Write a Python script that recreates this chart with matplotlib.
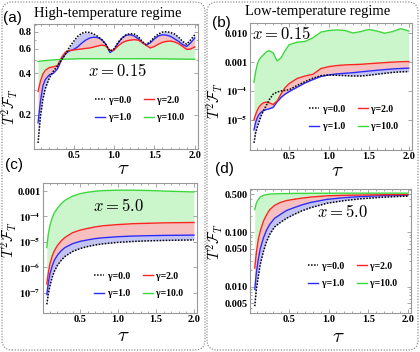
import numpy as np
import matplotlib
matplotlib.use('Agg')
import matplotlib.pyplot as plt
from matplotlib.patches import FancyBboxPatch
from matplotlib.ticker import FixedLocator, MultipleLocator, NullFormatter

# ---- data ----
gamma_labels = ["γ=0.0", "γ=1.0", "γ=2.0", "γ=10.0"]

# (a) high temperature, x = 0.15
tau_a = [0.06, 0.09, 0.12, 0.15, 0.2, 0.25, 0.3, 0.35, 0.4, 0.45, 0.5, 0.55, 0.6, 0.65,
         0.7, 0.75, 0.8, 0.85, 0.9, 0.95, 1.0, 1.05, 1.1, 1.15, 1.2, 1.25, 1.3, 1.35,
         1.4, 1.45, 1.5, 1.55, 1.6, 1.65, 1.7, 1.75, 1.8, 1.85, 1.9, 1.95, 2.0]
a_g0 = [0.125, 0.195, 0.26, 0.31, 0.37, 0.415, 0.45, 0.50, 0.55, 0.62, 0.68, 0.74, 0.78, 0.795,
        0.79, 0.77, 0.74, 0.70, 0.645, 0.58, 0.60, 0.67, 0.72, 0.76, 0.775, 0.77, 0.74, 0.68,
        0.645, 0.68, 0.73, 0.77, 0.795, 0.80, 0.79, 0.77, 0.73, 0.68, 0.65, 0.70, 0.76]
a_g1 = [0.175, 0.25, 0.325, 0.36, 0.39, 0.40, 0.43, 0.50, 0.555, 0.58, 0.595, 0.62, 0.66, 0.695,
        0.72, 0.73, 0.725, 0.70, 0.65, 0.565, 0.59, 0.66, 0.72, 0.755, 0.76, 0.745, 0.71, 0.665,
        0.64, 0.665, 0.71, 0.745, 0.76, 0.755, 0.74, 0.71, 0.68, 0.645, 0.625, 0.665, 0.72]
a_g2 = [0.295, 0.35, 0.395, 0.42, 0.44, 0.445, 0.455, 0.52, 0.57, 0.585, 0.59, 0.595, 0.60, 0.605,
        0.61, 0.62, 0.63, 0.64, 0.63, 0.585, 0.59, 0.63, 0.665, 0.685, 0.695, 0.70, 0.695, 0.67,
        0.635, 0.61, 0.625, 0.65, 0.67, 0.68, 0.685, 0.675, 0.655, 0.625, 0.595, 0.60, 0.62]
a_g10 = [0.487, 0.49, 0.492, 0.494, 0.497, 0.50, 0.502, 0.504, 0.506, 0.507, 0.508, 0.509, 0.51, 0.51,
         0.51, 0.51, 0.51, 0.51, 0.51, 0.51, 0.51, 0.51, 0.51, 0.51, 0.51, 0.51, 0.51, 0.51,
         0.51, 0.51, 0.51, 0.509, 0.509, 0.508, 0.508, 0.507, 0.507, 0.506, 0.506, 0.505, 0.505]

# (b) low temperature, x = 0.15
tau_b = [0.06, 0.08, 0.1, 0.12, 0.15, 0.18, 0.21, 0.25, 0.3, 0.35, 0.4, 0.45, 0.5, 0.6,
         0.7, 0.8, 0.9, 1.0, 1.1, 1.2, 1.3, 1.4, 1.5, 1.6, 1.7, 1.8, 1.9, 2.0]
b_g0 = [1.6e-6, 3.5e-6, 5.5e-6, 8e-6, 1.4e-5, 2.1e-5, 3.0e-5, 4.9e-5, 7.8e-5, 9.2e-5, 1.0e-4, 1.05e-4,
        1.1e-4, 1.55e-4, 2.1e-4, 2.8e-4, 3.4e-4, 3.6e-4, 3.5e-4, 3.4e-4, 3.3e-4, 3.3e-4, 3.5e-4,
        3.8e-4, 4.1e-4, 4.4e-4, 4.6e-4, 4.7e-4]
b_g1 = [4.5e-6, 8e-6, 1.15e-5, 1.5e-5, 1.85e-5, 2.1e-5, 2.25e-5, 2.4e-5, 2.7e-5, 4.2e-5, 6e-5, 7.8e-5,
        9.5e-5, 1.35e-4, 1.9e-4, 2.5e-4, 3.2e-4, 3.6e-4, 3.9e-4, 4.1e-4, 4.3e-4, 4.6e-4, 4.9e-4,
        5.2e-4, 5.5e-4, 5.8e-4, 6.0e-4, 6.2e-4]
b_g2 = [1.0e-5, 1.5e-5, 2.1e-5, 2.7e-5, 3.4e-5, 3.9e-5, 4.1e-5, 3.9e-5, 3.4e-5, 4.5e-5, 8e-5, 1.3e-4,
        1.8e-4, 2.7e-4, 3.3e-4, 3.8e-4, 6.0e-4, 7.0e-4, 7.6e-4, 8.0e-4, 8.2e-4, 8.4e-4, 8.8e-4,
        9.2e-4, 9.6e-4, 1.0e-3, 1.03e-3, 1.05e-3]
b_g10 = [2.0e-4, 4.5e-4, 8e-4, 1.15e-3, 1.5e-3, 1.8e-3, 2.2e-3, 2.5e-3, 2.1e-3, 1.1e-3, 1.4e-3, 2.5e-3,
         4.0e-3, 4.9e-3, 5.2e-3, 7.0e-3, 1.1e-2, 1.25e-2, 1.3e-2, 1.25e-2, 1.02e-2, 1.15e-2, 1.35e-2,
         1.2e-2, 1.0e-2, 1.15e-2, 1.45e-2, 1.2e-2]

# (c) high temperature, x = 5.0
tau_c = [0.06, 0.08, 0.1, 0.13, 0.16, 0.2, 0.25, 0.3, 0.4, 0.5, 0.6, 0.7, 0.8, 1.0, 1.2, 1.4, 1.6, 1.8, 2.0]
c_g0 = [3.5e-8, 9e-8, 1.8e-7, 4e-7, 7e-7, 1.2e-6, 1.9e-6, 2.7e-6, 4.2e-6, 5.5e-6, 6.6e-6, 7.6e-6,
        8.4e-6, 9.6e-6, 1.04e-5, 1.1e-5, 1.14e-5, 1.17e-5, 1.2e-5]
c_g1 = [8.5e-8, 2.4e-7, 5.3e-7, 1.1e-6, 1.9e-6, 3.0e-6, 4.5e-6, 6.0e-6, 8.5e-6, 1.05e-5, 1.2e-5, 1.35e-5,
        1.45e-5, 1.6e-5, 1.7e-5, 1.75e-5, 1.8e-5, 1.82e-5, 1.85e-5]
c_g2 = [2.2e-7, 6e-7, 1.3e-6, 2.7e-6, 4.5e-6, 7.2e-6, 1.1e-5, 1.5e-5, 2.3e-5, 2.9e-5, 3.4e-5, 3.9e-5,
        4.3e-5, 4.8e-5, 5.2e-5, 5.4e-5, 5.6e-5, 5.7e-5, 5.8e-5]
c_g10 = [6e-6, 2e-5, 4.2e-5, 8.5e-5, 1.4e-4, 2.1e-4, 3.2e-4, 4.3e-4, 6.3e-4, 7.9e-4, 9e-4, 9.8e-4,
         1.04e-3, 1.08e-3, 1.08e-3, 1.05e-3, 1.0e-3, 9.6e-4, 9.2e-4]

# (d) low temperature, x = 5.0
tau_d = [0.07, 0.09, 0.115, 0.14, 0.18, 0.22, 0.26, 0.32, 0.39, 0.47, 0.56, 0.66, 0.77, 0.98, 1.2, 1.4, 1.7, 2.0]
d_g0 = [0.0044, 0.009, 0.0156, 0.026, 0.045, 0.068, 0.092, 0.125, 0.15, 0.18, 0.21, 0.245, 0.28,
        0.34, 0.38, 0.41, 0.44, 0.46]
d_g1 = [0.009, 0.018, 0.032, 0.05, 0.079, 0.11, 0.14, 0.18, 0.21, 0.25, 0.28, 0.315, 0.35,
        0.40, 0.43, 0.45, 0.47, 0.48]
d_g2 = [0.022, 0.042, 0.074, 0.105, 0.16, 0.21, 0.26, 0.31, 0.35, 0.38, 0.40, 0.42, 0.44,
        0.465, 0.475, 0.48, 0.487, 0.49]
d_g10 = [0.26, 0.34, 0.40, 0.44, 0.475, 0.49, 0.50, 0.505, 0.51, 0.51, 0.515, 0.515, 0.517,
         0.518, 0.52, 0.52, 0.52, 0.52]

xtick_vals = [0.5, 1.0, 1.5, 2.0]
xtick_labels = ["0.5", "1.0", "1.5", "2.0"]
a_yticks = [0.2, 0.4, 0.6, 0.8]
a_ylabels = ["0.2", "0.4", "0.6", "0.8"]
b_yticks = [1e-5, 1e-4, 1e-3, 1e-2]
b_ylabels = [r"$\mathbf{10^{-5}}$", r"$\mathbf{10^{-4}}$", "0.001", "0.010"]
c_yticks = [1e-7, 1e-6, 1e-5, 1e-4, 1e-3]
c_ylabels = [r"$\mathbf{10^{-7}}$", r"$\mathbf{10^{-6}}$", r"$\mathbf{10^{-5}}$", r"$\mathbf{10^{-4}}$", "0.001"]
d_yticks = [0.005, 0.01, 0.05, 0.1, 0.5]
d_ylabels = ["0.005", "0.010", "0.050", "0.100", "0.500"]

# ---- styling ----
W, H = 420, 352
LINE_COLORS = ['black', '#2a2aff', '#ff2222', '#3ad83a']
FILL_COLORS = ['#c4c4f2', '#f6c0c0', '#cbf5cb']
FRAME = '#999999'
TICK_FONT = dict(family='Liberation Serif', weight='bold', size=7.5)

fig = plt.figure(figsize=(W / 100, H / 100), dpi=100)


def px_axes(x0, y0, x1, y1):
    return fig.add_axes([x0 / W, 1 - y1 / H, (x1 - x0) / W, (y1 - y0) / H])


def fig_text(x, y, s, **kw):
    fig.text(x / W, 1 - y / H, s, ha='center', va='center', **kw)


def draw_panel(ax, tau, curves, ylim, yticks, ylabels, legend_xy):
    ax.set_yscale('log')
    for k in range(3):
        ax.fill_between(tau, curves[k], curves[k + 1], color=FILL_COLORS[k], lw=0)
    lines = []
    for k, c in enumerate(curves):
        if k == 0:
            ln, = ax.plot(tau, c, color='black', ls=(0, (1, 1)), lw=1.1, zorder=4)
        else:
            ln, = ax.plot(tau, c, color=LINE_COLORS[k], lw=1.0, zorder=3)
        lines.append(ln)

    ax.set_xlim(0.01, 2.04)
    ax.set_ylim(*ylim)
    ax.xaxis.set_major_locator(FixedLocator(xtick_vals))
    ax.set_xticklabels(xtick_labels, **TICK_FONT)
    ax.xaxis.set_minor_locator(MultipleLocator(0.1))
    ax.yaxis.set_major_locator(FixedLocator(yticks))
    ax.set_yticklabels(ylabels, **TICK_FONT)
    ax.yaxis.set_minor_formatter(NullFormatter())
    for lbl in ax.get_yticklabels():
        lbl.set_math_fontfamily('stix')
    for sp in ax.spines.values():
        sp.set_color(FRAME)
        sp.set_linewidth(0.8)
    ax.tick_params(which='both', direction='in', top=True, right=True,
                   color=FRAME, width=0.6, pad=1.5)
    ax.tick_params(which='major', length=3)
    ax.tick_params(which='minor', length=1.5)

    ax.legend(lines, gamma_labels, ncol=2, frameon=False, loc='center',
              bbox_to_anchor=(legend_xy[0] / W, 1 - legend_xy[1] / H),
              bbox_transform=fig.transFigure, handlelength=1.0, handletextpad=0.4,
              columnspacing=1.3, labelspacing=0.85,
              prop=dict(family='Liberation Serif', weight='bold', size=7))
    return ax


ax_a = px_axes(34, 24, 198, 149)
draw_panel(ax_a, tau_a, [a_g0, a_g1, a_g2, a_g10], (0.113, 0.91), a_yticks, a_ylabels, (140, 109))
ax_b = px_axes(250, 23, 412, 150)
draw_panel(ax_b, tau_b, [b_g0, b_g1, b_g2, b_g10], (9e-7, 0.0227), b_yticks, b_ylabels, (354, 118))
ax_c = px_axes(43, 183, 197, 313)
draw_panel(ax_c, tau_c, [c_g0, c_g1, c_g2, c_g10], (1.6e-8, 2.07e-3), c_yticks, c_ylabels, (139, 285))
ax_d = px_axes(250, 189, 411, 313)
draw_panel(ax_d, tau_d, [d_g0, d_g1, d_g2, d_g10], (0.0033, 0.62), d_yticks, d_ylabels, (353, 275))

# panel letters, titles, labels
for s, x, y in [("(a)", 12, 18), ("(b)", 221, 23), ("(c)", 14, 165), ("(d)", 224, 169)]:
    fig_text(x, y, s, family='Liberation Sans', size=11)
fig_text(108, 14, "High-temperature regime", family='Liberation Serif', size=10.5)
fig_text(318, 12, "Low-temperature regime", family='Liberation Serif', size=10.5)

for x, y in [(123, 168), (337, 170), (123, 335), (338, 336)]:
    fig_text(x, y, r"$\tau$", size=15, math_fontfamily='cm')
for x, y in [(10, 107), (215, 101), (9, 240), (215, 242)]:
    fig_text(x, y, r"$T^2\mathcal{F}_T$", size=10.5, rotation=90, math_fontfamily='cm')
for s, x, y in [("0.15", 118, 71), ("0.15", 282, 34), ("5.0", 118, 206), ("5.0", 342, 212)]:
    fig_text(x, y, r"$x=%s$" % s, size=12, math_fontfamily='cm')

# dotted rounded boxes around the two columns
for x0, x1 in [(2, 205), (207, 418)]:
    box = FancyBboxPatch((x0 / 100, 2 / 100), (x1 - x0) / 100, (H - 4) / 100,
                         boxstyle="round,pad=0,rounding_size=0.1",
                         transform=fig.dpi_scale_trans, fill=False,
                         ec='#777777', lw=0.8, ls=(0, (1, 1.5)))
    fig.patches.append(box)

fig.savefig('out.png', dpi=100)
